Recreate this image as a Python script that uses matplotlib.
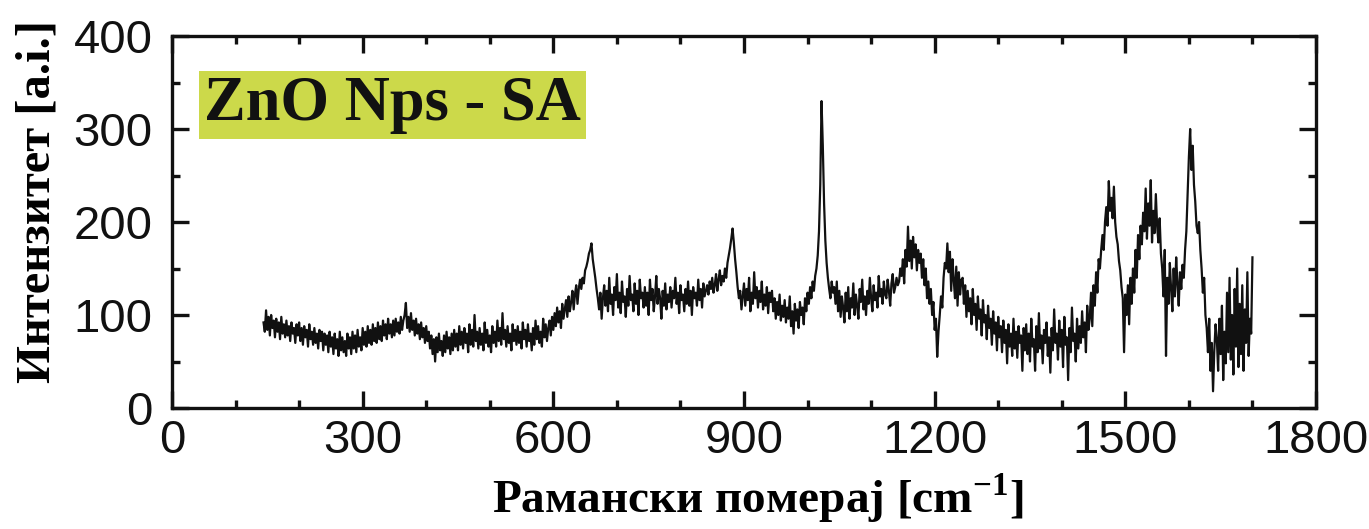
import numpy as np
import matplotlib
matplotlib.use("Agg")
import matplotlib.pyplot as plt
from matplotlib.ticker import MultipleLocator

# Raman shift grid (cm^-1): start, step
shift_start = 144
shift_step = 2

# Intensity values (a.u.), 100 cm^-1 per row
intensity = [
    # 144-242
    92,82,105,84,98,78,100,86,94,76, 96,82,92,74,98,80,90,76,94,78, 88,72,92,80,86,70,90,78,92,72,
    86,68,88,76,84,66,90,74,82,68, 86,70,80,64,84,72,82,62,80,68,
    # 244-342
    78,60,82,66,76,58,80,64,74,56, 82,62,76,60,72,56,80,64,76,58, 82,64,78,60,84,66,76,62,86,68,
    82,66,88,70,84,68,90,72,86,70, 92,74,88,72,94,78,90,74,96,80,
    # 344-442
    90,76,94,78,96,82,92,80,98,84, 94,100,113,86,98,82,102,84,94,78, 96,80,90,74,92,76,86,70,88,72,
    82,64,78,58,74,50,76,60,80,62, 72,56,78,60,82,64,76,58,80,62,
    # 444-542
    84,66,80,62,88,68,82,64,86,70, 80,60,90,68,84,66,100,72,82,64, 86,68,80,62,92,70,84,66,78,60,
    88,70,82,66,94,72,86,68,102,74, 84,66,88,70,80,62,90,72,84,68,
    # 544-642
    88,70,82,64,92,74,84,66,90,72, 80,62,86,68,94,74,88,70,82,66, 96,76,90,72,86,94,78,98,84,102,
    88,108,92,104,86,112,96,106,116,98, 120,104,114,126,106,122,132,112,128,138,
    # 644-742
    128,140,134,148,152,158,166,170,177,160, 150,140,128,118,106,124,96,118,132,110,
    126,104,140,112,122,100,130,116,144,108, 124,102,136,114,120,98,128,110,142,116,
    122,104,134,112,126,100,138,118,124,108,
    # 744-842
    130,110,124,100,138,116,128,104,120,142, 112,128,118,96,126,110,134,106,122,114,
    130,108,126,118,140,112,124,102,132,116, 122,104,128,112,136,110,126,100,130,118,
    124,110,138,116,128,108,134,120,126,132,
    # 844-942
    122,136,128,140,124,132,144,126,138,148, 132,142,136,150,140,156,164,172,182,193,
    178,160,146,130,118,126,106,120,134,110, 128,116,140,104,124,112,146,118,130,108,
    126,114,136,106,122,110,130,102,124,114,
    # 944-1042
    126,104,118,96,114,100,122,94,110,98, 116,92,108,96,120,88,104,80,112,94,
    106,86,114,100,108,90,118,104,124,112, 130,118,136,126,142,150,164,190,240,330,
    282,220,180,156,140,128,118,136,124,130,
    # 1044-1142
    112,136,104,126,98,120,108,92,124,104, 130,96,118,108,134,100,122,110,96,128,
    114,138,106,120,100,126,112,140,118,104, 132,116,124,108,142,120,128,112,136,122,
    118,138,126,110,134,144,124,130,140,132,
    # 1144-1242
    136,150,142,160,134,170,152,195,158,180, 150,184,162,176,148,170,156,166,140,160,
    132,150,118,136,112,128,100,114,84,96, 55,82,100,120,108,140,156,150,177,146,
    168,126,160,138,118,152,110,146,122,138,
    # 1244-1342
    140,112,132,98,126,104,118,90,128,100, 112,84,120,96,106,78,116,92,100,74,
    110,86,96,68,104,80,92,62,98,76, 88,60,94,70,84,48,90,66,80,56,
    96,64,82,54,88,70,78,40,86,62,
    # 1344-1442
    90,58,80,50,96,66,74,40,88,60, 102,64,78,48,84,70,92,56,76,38,
    86,62,106,70,80,52,94,66,84,44, 98,68,76,30,86,60,108,72,80,50,
    96,64,88,70,104,76,92,60,110,84,
    # 1444-1542
    96,124,88,132,110,146,124,160,150,170, 186,170,200,216,196,244,212,226,204,238,
    200,184,176,158,148,130,118,60,122,100, 132,90,140,112,150,124,170,140,186,160,
    196,176,210,190,236,182,220,196,245,178,
    # 1544-1642
    212,188,230,196,178,204,166,150,120,170, 56,140,112,156,128,104,150,120,162,134,
    110,146,128,154,140,170,190,230,270,300, 256,282,240,222,196,188,200,170,150,124,
    140,100,86,60,96,40,70,18,62,90,
    # 1644-1700
    74,40,96,58,110,30,82,48,124,60, 140,52,100,36,128,66,150,44,112,58,
    132,40,106,70,146,56,96,80,162,
]

x_ticks = [0, 300, 600, 900, 1200, 1500, 1800]
y_ticks = [0, 100, 200, 300, 400]
x_label = "Рамански померај [cm$^{\\mathbf{-1}}$]"
y_label = "Интензитет [a.i.]"
sample_label = "ZnO Nps - SA"

shift = shift_start + shift_step * np.arange(len(intensity))

plt.rcParams['mathtext.fontset'] = 'custom'
plt.rcParams['mathtext.rm'] = 'Liberation Serif'
plt.rcParams['mathtext.bf'] = 'Liberation Serif:bold'

fig = plt.figure(figsize=(13.69, 5.29), dpi=100)
ax = fig.add_axes([172/1369, 1-408/529, (1316-172)/1369, (408-36)/529])

ax.plot(shift, intensity, color='#111111', lw=1.6)

ax.set_xlim(0, 1800)
ax.set_ylim(0, 400)
ax.set_xticks(x_ticks)
ax.set_yticks(y_ticks)
ax.xaxis.set_minor_locator(MultipleLocator(100))
ax.yaxis.set_minor_locator(MultipleLocator(50))
ax.tick_params(which='both', direction='in', top=True, right=True, width=2.4, colors='#111111')
ax.tick_params(which='major', length=12, labelsize=34)
ax.tick_params(axis='x', which='major', pad=8)
ax.tick_params(axis='y', which='major', pad=14)
ax.tick_params(which='minor', length=6)
for lab in ax.get_xticklabels() + ax.get_yticklabels():
    lab.set_fontfamily('Liberation Sans')
for s in ax.spines.values():
    s.set_linewidth(2.4)
    s.set_color('#111111')

ax.set_xlabel(x_label, fontfamily='Liberation Serif', fontweight='bold', fontsize=34, labelpad=6)
ax.set_ylabel(y_label, fontfamily='Liberation Serif', fontweight='bold', fontsize=35, labelpad=10)
ax.xaxis.label.set_x(0.512)
ax.yaxis.label.set_y(0.555)

ax.text(0.028, 0.815, sample_label, transform=ax.transAxes, fontfamily='Liberation Serif',
        fontweight='bold', fontsize=45, va='center', ha='left', color='#111111',
        bbox=dict(boxstyle='square,pad=0.08', facecolor='#ccd94a', edgecolor='none'))

fig.savefig('out.png', dpi=100)
